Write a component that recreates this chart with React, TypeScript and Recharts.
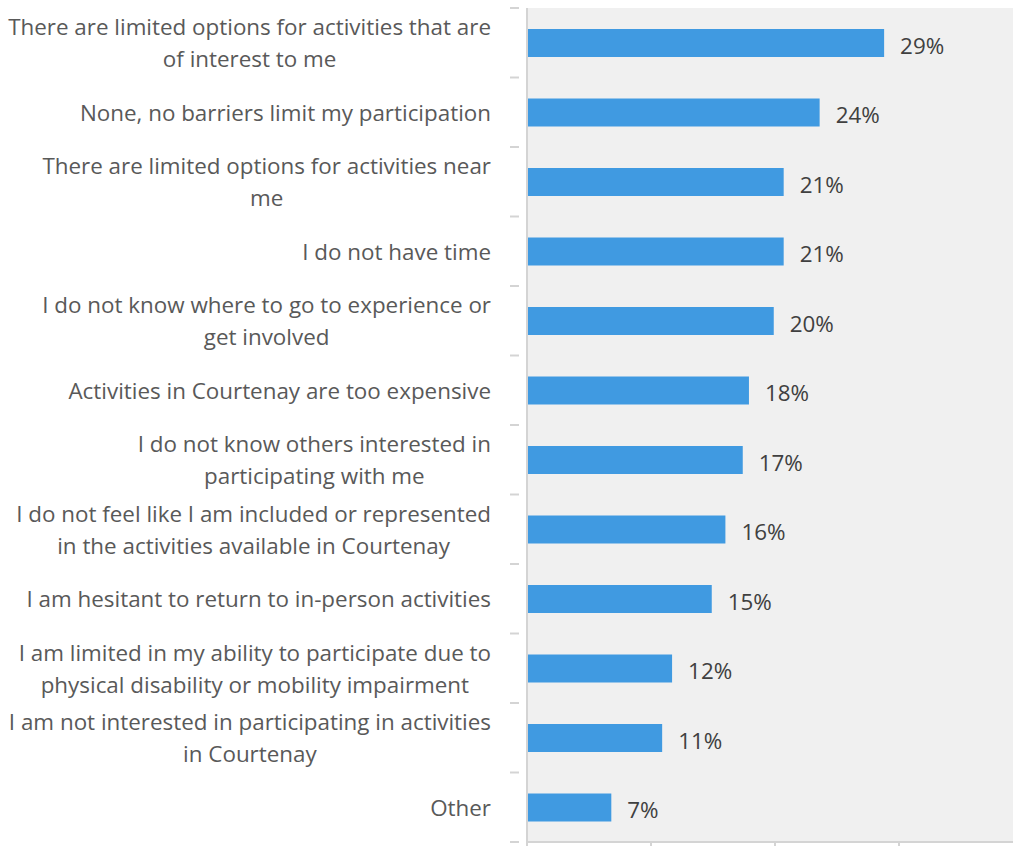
import { Bar, BarChart, CartesianGrid, LabelList, XAxis, YAxis } from "recharts";

const categories = [
  "There are limited options for activities that are\nof interest to me",
  "None, no barriers limit my participation",
  "There are limited options for activities near\nme",
  "I do not have time",
  "I do not know where to go to experience or\nget involved",
  "Activities in Courtenay are too expensive",
  "I do not know others interested in\nparticipating with me",
  "I do not feel like I am included or represented\nin the activities available in Courtenay",
  "I am hesitant to return to in-person activities",
  "I am limited in my ability to participate due to\nphysical disability or mobility impairment",
  "I am not interested in participating in activities\nin Courtenay",
  "Other",
];

const shares = [28.8, 23.6, 20.7, 20.7, 19.9, 17.9, 17.4, 16.0, 14.9, 11.7, 10.9, 6.8];

const xTicks = [0, 10, 20, 30, 40];

const data = categories.map((name, i) => ({ name, value: shares[i] }));

const FONT = "'Open Sans', 'Noto Sans', sans-serif";
const LABEL_SIZE = 22.4;
const AXIS_COLOR = "#d4d4d4";
const PLOT_TOP = 8;
const PLOT_BOTTOM = 842;
const BAND = (PLOT_BOTTOM - PLOT_TOP) / categories.length;
const TEXT_RIGHT = 491;

let ctx: CanvasRenderingContext2D | null = null;
const measure = (text: string) => {
  if (!ctx) ctx = document.createElement("canvas").getContext("2d");
  if (!ctx) return text.length * 10;
  ctx.font = `${LABEL_SIZE}px ${FONT}`;
  return ctx.measureText(text).width;
};

const CategoryTick = (props: any) => {
  const { x, y, payload, index } = props;
  const lines: string[] = String(payload.value).split("\n");
  const blockWidth = Math.max(...lines.map(measure));
  const cx = TEXT_RIGHT - blockWidth / 2;
  const lineGap = 32;
  const startY = y - ((lines.length - 1) * lineGap) / 2;
  const top = y - BAND / 2;
  return (
    <g>
      <line x1={x - 9} x2={x} y1={top} y2={top} stroke={AXIS_COLOR} strokeWidth={2} />
      {index === categories.length - 1 && (
        <line x1={x - 9} x2={x} y1={top + BAND} y2={top + BAND} stroke={AXIS_COLOR} strokeWidth={2} />
      )}
      {lines.map((line, i) => (
        <text
          key={i}
          x={cx}
          y={startY + i * lineGap}
          textAnchor="middle"
          dominantBaseline="central"
          fill="#595959"
          fontSize={LABEL_SIZE}
          fontFamily={FONT}
        >
          {line}
        </text>
      ))}
    </g>
  );
};

const ValueLabel = (props: any) => {
  const { x, y, width, height, value } = props;
  return (
    <text
      x={x + width + 16}
      y={y + height / 2 + 2}
      dominantBaseline="central"
      fill="#404040"
      fontSize={LABEL_SIZE}
      fontFamily={FONT}
    >
      {`${Math.round(Number(value))}%`}
    </text>
  );
};

export default function App() {
  return (
    <div style={{ position: "absolute", left: 0, top: 0, background: "#ffffff" }}>
      <BarChart
        width={1030}
        height={860}
        data={data}
        layout="vertical"
        margin={{ top: PLOT_TOP, right: 7, bottom: 0, left: 0 }}
        barCategoryGap={0}
      >
        <CartesianGrid fill="#f0f0f0" horizontal={false} vertical={false} stroke="none" />
        <XAxis
          type="number"
          domain={[0, 40]}
          ticks={xTicks}
          height={18}
          axisLine={{ stroke: AXIS_COLOR, strokeWidth: 2 }}
          tickLine={{ stroke: AXIS_COLOR, strokeWidth: 2 }}
          tickSize={6}
          tick={() => <g />}
        />
        <YAxis
          type="category"
          dataKey="name"
          width={527}
          interval={0}
          axisLine={{ stroke: AXIS_COLOR, strokeWidth: 2 }}
          tickLine={false}
          tick={<CategoryTick />}
        />
        <Bar dataKey="value" fill="#409ae1" barSize={28} isAnimationActive={false}>
          <LabelList dataKey="value" content={<ValueLabel />} />
        </Bar>
      </BarChart>
    </div>
  );
}
